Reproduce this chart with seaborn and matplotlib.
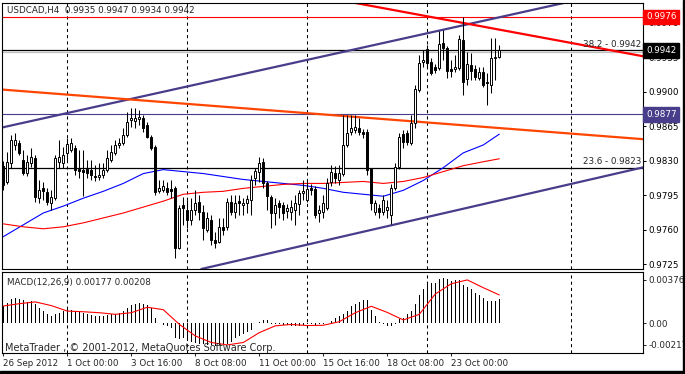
import matplotlib
matplotlib.use("Agg")
import matplotlib.pyplot as plt
import seaborn as sns
import numpy as np
import pandas as pd
from matplotlib.patches import Rectangle

# ---------------- data ----------------
opens = [0.9825, 0.9808, 0.9828, 0.9846, 0.9848, 0.9831, 0.9818, 0.9828, 0.9833, 0.9792,
         0.9802, 0.9798, 0.9787, 0.9792, 0.9829, 0.9828, 0.9838, 0.9841, 0.9843, 0.9822,
         0.9821, 0.9822, 0.9821, 0.9815, 0.9814, 0.9816, 0.9821, 0.9831, 0.9838, 0.9846,
         0.9848, 0.9856, 0.9871, 0.9870, 0.9872, 0.9873, 0.9866, 0.9854, 0.9844, 0.9799,
         0.9800, 0.9802, 0.9801, 0.9802, 0.9742, 0.9785, 0.9780, 0.9770, 0.9780, 0.9788,
         0.9778, 0.9760, 0.9770, 0.9750, 0.9748, 0.9763, 0.9763, 0.9788, 0.9778, 0.9789,
         0.9785, 0.9787, 0.9790, 0.9813, 0.9819, 0.9829, 0.9807, 0.9793, 0.9777, 0.9787,
         0.9785, 0.9779, 0.9778, 0.9780, 0.9786, 0.9797, 0.9790, 0.9802, 0.9801, 0.9777,
         0.9778, 0.9782, 0.9808, 0.9818, 0.9810, 0.9817, 0.9846, 0.9859, 0.9861, 0.9863,
         0.9859, 0.9859, 0.9822, 0.9778, 0.9782, 0.9778, 0.9780, 0.9775, 0.9802, 0.9824,
         0.9857, 0.9858, 0.9848, 0.9868, 0.9902, 0.9930, 0.9943, 0.9930, 0.9925, 0.9924,
         0.9949, 0.9944, 0.9923, 0.9923, 0.9924, 0.9952, 0.9913, 0.9927, 0.9923, 0.9914,
         0.9920, 0.9910, 0.9907, 0.9934, 0.9935]
highs = [0.9830, 0.9839, 0.9856, 0.9858, 0.9851, 0.9841, 0.9836, 0.9843, 0.9836, 0.9810,
         0.9808, 0.9802, 0.9800, 0.9836, 0.9851, 0.9844, 0.9853, 0.9853, 0.9846, 0.9841,
         0.9841, 0.9831, 0.9831, 0.9826, 0.9828, 0.9828, 0.9841, 0.9846, 0.9851, 0.9853,
         0.9863, 0.9879, 0.9883, 0.9883, 0.9881, 0.9876, 0.9869, 0.9856, 0.9846, 0.9810,
         0.9810, 0.9808, 0.9810, 0.9804, 0.9785, 0.9793, 0.9790, 0.9792, 0.9800, 0.9795,
         0.9785, 0.9778, 0.9775, 0.9758, 0.9772, 0.9772, 0.9792, 0.9795, 0.9795, 0.9795,
         0.9792, 0.9795, 0.9816, 0.9823, 0.9834, 0.9833, 0.9809, 0.9795, 0.9792, 0.9790,
         0.9788, 0.9786, 0.9790, 0.9795, 0.9800, 0.9810, 0.9810, 0.9806, 0.9804, 0.9785,
         0.9795, 0.9812, 0.9826, 0.9825, 0.9826, 0.9876, 0.9876, 0.9876, 0.9876, 0.9873,
         0.9862, 0.9862, 0.9823, 0.9790, 0.9786, 0.9795, 0.9790, 0.9806, 0.9828, 0.9858,
         0.9861, 0.9861, 0.9876, 0.9907, 0.9937, 0.9942, 0.9947, 0.9934, 0.9928, 0.9962,
         0.9963, 0.9946, 0.9932, 0.9937, 0.9958, 0.9976, 0.9940, 0.9939, 0.9927, 0.9925,
         0.9925, 0.9919, 0.9954, 0.9955, 0.9947]
lows = [0.9800, 0.9806, 0.9823, 0.9841, 0.9836, 0.9816, 0.9815, 0.9824, 0.9788, 0.9787,
        0.9790, 0.9785, 0.9780, 0.9790, 0.9823, 0.9823, 0.9831, 0.9839, 0.9816, 0.9813,
        0.9794, 0.9813, 0.9810, 0.9809, 0.9810, 0.9813, 0.9819, 0.9829, 0.9836, 0.9843,
        0.9846, 0.9854, 0.9864, 0.9863, 0.9866, 0.9859, 0.9853, 0.9841, 0.9795, 0.9797,
        0.9798, 0.9795, 0.9792, 0.9731, 0.9740, 0.9765, 0.9762, 0.9765, 0.9775, 0.9770,
        0.9750, 0.9758, 0.9745, 0.9742, 0.9747, 0.9755, 0.9760, 0.9775, 0.9772, 0.9775,
        0.9775, 0.9777, 0.9775, 0.9805, 0.9808, 0.9802, 0.9780, 0.9762, 0.9765, 0.9772,
        0.9770, 0.9772, 0.9770, 0.9765, 0.9775, 0.9790, 0.9788, 0.9795, 0.9772, 0.9768,
        0.9772, 0.9780, 0.9804, 0.9807, 0.9805, 0.9815, 0.9844, 0.9856, 0.9858, 0.9856,
        0.9853, 0.9816, 0.9780, 0.9775, 0.9772, 0.9775, 0.9772, 0.9766, 0.9800, 0.9822,
        0.9843, 0.9846, 0.9846, 0.9863, 0.9900, 0.9925, 0.9924, 0.9917, 0.9919, 0.9922,
        0.9932, 0.9914, 0.9915, 0.9920, 0.9922, 0.9897, 0.9907, 0.9912, 0.9912, 0.9912,
        0.9905, 0.9887, 0.9899, 0.9912, 0.9934]
closes = [0.9805, 0.9829, 0.9851, 0.9851, 0.9838, 0.9818, 0.9829, 0.9834, 0.9793, 0.9800,
          0.9799, 0.9788, 0.9793, 0.9833, 0.9834, 0.9836, 0.9847, 0.9848, 0.9821, 0.9820,
          0.9819, 0.9818, 0.9816, 0.9814, 0.9816, 0.9821, 0.9833, 0.9839, 0.9846, 0.9848,
          0.9856, 0.9869, 0.9873, 0.9873, 0.9874, 0.9863, 0.9854, 0.9843, 0.9798, 0.9802,
          0.9804, 0.9798, 0.9799, 0.9742, 0.9782, 0.9782, 0.9770, 0.9780, 0.9787, 0.9778,
          0.9762, 0.9772, 0.9750, 0.9747, 0.9763, 0.9760, 0.9788, 0.9778, 0.9787, 0.9787,
          0.9787, 0.9791, 0.9810, 0.9820, 0.9828, 0.9807, 0.9794, 0.9777, 0.9785, 0.9783,
          0.9777, 0.9782, 0.9783, 0.9787, 0.9797, 0.9799, 0.9801, 0.9800, 0.9775, 0.9780,
          0.9787, 0.9807, 0.9819, 0.9813, 0.9818, 0.9846, 0.9858, 0.9863, 0.9864, 0.9859,
          0.9857, 0.9821, 0.9787, 0.9787, 0.9778, 0.9790, 0.9783, 0.9802, 0.9824, 0.9854,
          0.9849, 0.9849, 0.9868, 0.9903, 0.9929, 0.9932, 0.9929, 0.9919, 0.9922, 0.9948,
          0.9944, 0.9921, 0.9921, 0.9925, 0.9953, 0.9910, 0.9928, 0.9921, 0.9915, 0.9920,
          0.9907, 0.9909, 0.9934, 0.9935, 0.9942]

ma_idx = [0, 5, 10, 15, 20, 25, 30, 35, 40, 45, 50, 55, 60, 65, 70, 75, 80, 85, 90, 95,
          100, 105, 110, 115, 120, 124]
ma_blue = [0.9753, 0.9765, 0.9777, 0.9784, 0.9792, 0.9799, 0.9807, 0.9817, 0.9821, 0.9819,
           0.9817, 0.9814, 0.9811, 0.9809, 0.9807, 0.9805, 0.9802, 0.9798, 0.9796, 0.9794,
           0.9800, 0.9810, 0.9823, 0.9838, 0.9846, 0.9857]
ma_red = [0.9766, 0.9763, 0.9761, 0.9763, 0.9767, 0.9772, 0.9777, 0.9783, 0.9789, 0.9796,
          0.9798, 0.9799, 0.9802, 0.9804, 0.9806, 0.9807, 0.9807, 0.9808, 0.9809, 0.9807,
          0.9809, 0.9813, 0.9819, 0.9825, 0.9829, 0.9832]

macd_hist = [127, 151, 176, 183, 181, 168, 159, 163, 139, 115, 90, 66, 54, 66, 78, 90, 102, 98, 90, 85,
             78, 71, 61, 54, 51, 54, 61, 66, 71, 78, 90, 115, 134, 139, 146, 144, 134, 115, 41, 5,
             -12, -20, -32, -105, -117, -110, -117, -134, -144, -149, -154, -159, -161, -163, -159, -154, -149, -134, -110, -93,
             -81, -61, -46, 5, 12, 22, 22, -2, -7, -7, -12, -15, -17, -22, -17, -12, -7, -7, -12, -7,
             -2, 5, 17, 37, 54, 71, 90, 127, 144, 159, 171, 171, 95, 54, 12, -2, -20, -20, -7, 29,
             41, 66, 90, 144, 205, 254, 290, 293, 298, 322, 334, 322, 310, 315, 317, 281, 266, 249, 224, 207,
             188, 163, 163, 163, 177]  # x 1e-5
sig_idx = list(range(0, 125, 4))
macd_signal = [127, 144, 157, 130, 90, 85, 78, 66, 78, 118, 100, -7, -92, -140, -158, -140, -68, -18, -8, -16,
               -14, 12, 78, 125, 80, 25, 66, 215, 290, 318, 261, 208]  # x 1e-5

# horizontal levels and trend line anchors (candle index, price)
lvl_red, lvl_fib382, lvl_purple, lvl_fib236 = 0.9976, 0.9942, 0.9877, 0.9823
chan_up = [(0, 0.9864), (139, 0.9989)]
chan_low = [(60, 0.9730), (150, 0.9814)]
res_red = [(114, 0.99705), (159, 0.99367)]
orange_ln = [(0, 0.99021), (150, 0.98550)]

grid_idx = [16, 46, 76, 106, 142]
date_idx = [0, 16, 32, 48, 64, 80, 96, 112]
date_labels = ["26 Sep 2012", "1 Oct 00:00", "3 Oct 16:00", "8 Oct 08:00",
               "11 Oct 00:00", "15 Oct 16:00", "18 Oct 08:00", "23 Oct 00:00"]
price_ticks = [0.9970, 0.9935, 0.9900, 0.9865, 0.9830, 0.9795, 0.9760, 0.9725]

# ---------------- figure ----------------
sns.set_style("white")
plt.rcParams["font.family"] = ["DejaVu Sans"]
FS = 6.3
W, H = 685, 374
fig = plt.figure(figsize=(W / 100, H / 100), dpi=100)
fig.patch.set_facecolor("white")


def rect(x0, y0, x1, y1):
    return [x0 / W, 1 - y1 / H, (x1 - x0) / W, (y1 - y0) / H]


ax = fig.add_axes(rect(2, 3, 643, 269))
axm = fig.add_axes(rect(2, 272, 643, 353))
XL = (-1.3 / 4, -1.3 / 4 + 641 / 4)

df = pd.DataFrame({"o": opens, "h": highs, "l": lows, "c": closes})
df["i"] = np.arange(len(df))
df["bot"] = df[["o", "c"]].min(axis=1)
df["hgt"] = (df["c"] - df["o"]).abs().clip(lower=0.00002)
df["col"] = np.where(df["c"] >= df["o"], "white", "black")

# grid
for g in grid_idx:
    for a in (ax, axm):
        a.axvline(g, color="black", lw=0.75, ls=(0, (3, 3)), zorder=1)

# levels
ax.axhline(lvl_red, color="#FF0000", lw=0.8, zorder=1)
ax.axhline(lvl_fib382 - 0.00012, color="#C0C0C0", lw=0.9, zorder=1)
ax.axhline(lvl_fib382, color="black", lw=0.9, zorder=1)
ax.axhline(lvl_purple, color="#483D8B", lw=0.8, zorder=1)
ax.axhline(lvl_fib236, color="black", lw=0.9, zorder=1)

# trend lines
ax.axline(*chan_up, color="#483D8B", lw=1.6, zorder=2)
ax.axline(*chan_low, color="#483D8B", lw=1.6, zorder=2)
ax.axline(*res_red, color="#FF0000", lw=1.6, zorder=2)
ax.axline(*orange_ln, color="#FF4500", lw=1.6, zorder=2)

# moving averages
sns.lineplot(x=ma_idx, y=ma_blue, ax=ax, color="#0000FF", lw=0.8, estimator=None, zorder=2)
sns.lineplot(x=ma_idx, y=ma_red, ax=ax, color="#FF0000", lw=0.8, estimator=None, zorder=2)

# candles
ax.vlines(df["i"], df["l"], df["h"], color="black", lw=0.75, zorder=3)
ax.bar(df["i"], df["hgt"], bottom=df["bot"], width=0.55, color=df["col"],
       edgecolor="black", linewidth=0.7, zorder=4)

ax.set_xlim(*XL)
ax.set_ylim(0.97202, 0.99900)
ax.set_xticks([])
ax.yaxis.tick_right()
ax.set_yticks(price_ticks)
ax.set_yticklabels([f"{p:.4f}" for p in price_ticks])
ax.tick_params(axis="y", right=True, length=2.5, width=0.75, labelsize=FS, pad=1.5, colors="black")
for s in ax.spines.values():
    s.set_color("black"); s.set_linewidth(0.8)

ax.text(159.6, lvl_fib382 + 0.00012, "38.2 - 0.9942", ha="right", va="bottom", fontsize=FS, zorder=5)
ax.text(159.6, lvl_fib236 + 0.00012, "23.6 - 0.9823", ha="right", va="bottom", fontsize=FS, zorder=5)

for val, bg in [(lvl_red, "#FF0000"), (lvl_fib382, "black"), (lvl_purple, "#483D8B")]:
    ax.annotate(f"{val:.4f}", xy=(1.0, val), xycoords=("axes fraction", "data"),
                xytext=(2.2, 0), textcoords="offset points", ha="left", va="center",
                fontsize=FS, color="white", annotation_clip=False, zorder=10,
                bbox=dict(boxstyle="square,pad=0.32", fc=bg, ec=bg))

# MACD panel
axm.bar(np.arange(len(macd_hist)), np.array(macd_hist) * 1e-5, width=0.25, color="black", lw=0, zorder=3)
sns.lineplot(x=sig_idx, y=np.array(macd_signal) * 1e-5, ax=axm, color="#FF0000", lw=0.8,
             estimator=None, zorder=4)
axm.set_xlim(*XL)
axm.set_ylim(-0.00217, 0.00376)
axm.yaxis.tick_right()
axm.set_yticks([0.00318, 0.0, -0.00158])
axm.set_yticklabels(["0.00376", "0.00", "-0.00217"])
axm.tick_params(axis="y", right=True, length=2.5, width=0.75, labelsize=FS, pad=1.5)
axm.set_xticks(date_idx)
axm.set_xticklabels(date_labels)
for lbl in axm.get_xticklabels():
    lbl.set_ha("left")
axm.tick_params(axis="x", bottom=True, length=2.5, width=0.75, labelsize=FS, pad=2)
for s in axm.spines.values():
    s.set_color("black"); s.set_linewidth(0.8)

# header texts
fig.text(7 / W, 1 - 10 / H, "USDCAD,H4  0.9935 0.9947 0.9934 0.9942", va="center", fontsize=FS)
fig.text(7 / W, 1 - 282 / H, "MACD(12,26,9) 0.00177 0.00208", va="center", fontsize=FS)
fig.text(5 / W, 1 - 348 / H, "MetaTrader , \u00a9 2001-2012, MetaQuotes Software Corp.", va="center", fontsize=7)

# window border
fig.patches.append(Rectangle((0, 0), 1, 3 / H, transform=fig.transFigure, color="black", zorder=20))
fig.patches.append(Rectangle((682.5 / W, 0), 2.5 / W, 1, transform=fig.transFigure, color="black", zorder=20))

fig.savefig("out.png", dpi=100, facecolor="white")
